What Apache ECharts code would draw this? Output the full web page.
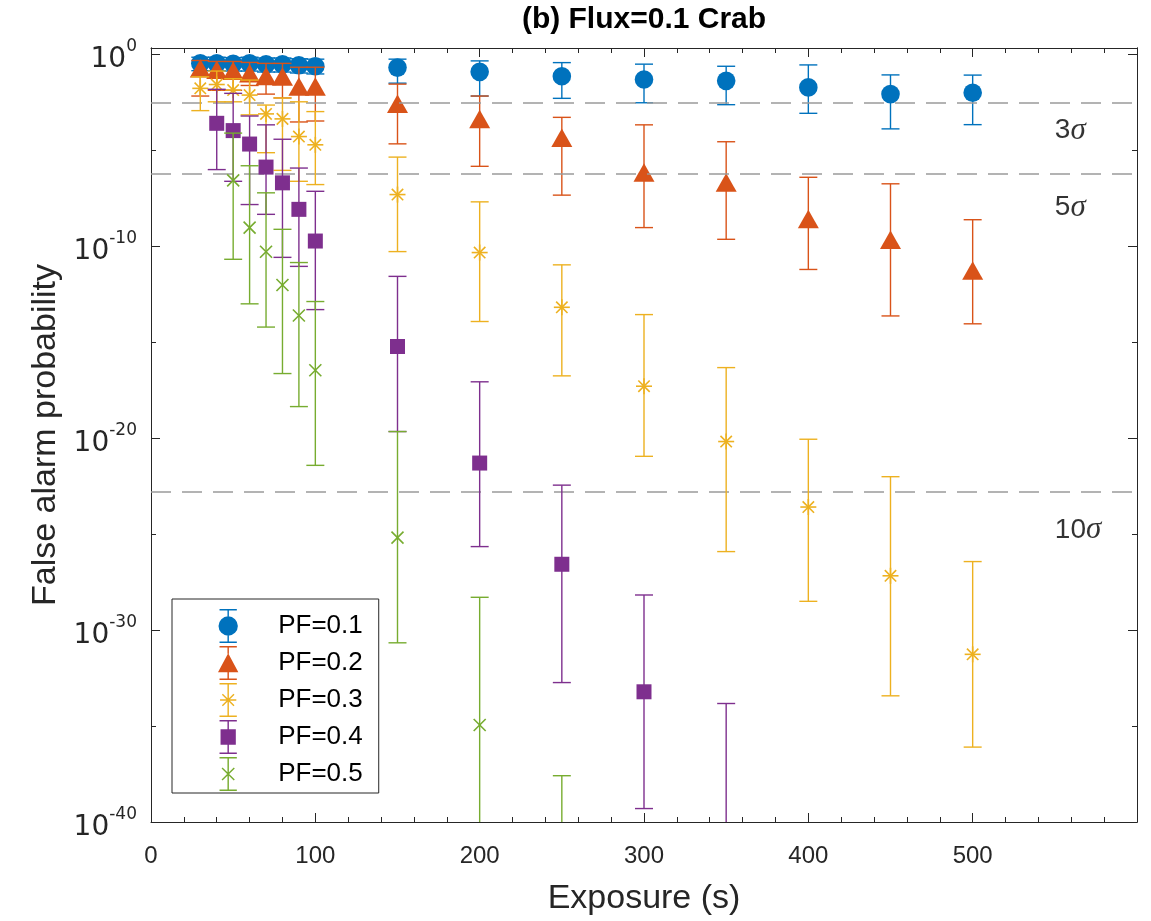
<!DOCTYPE html>
<html>
<head>
<meta charset="utf-8">
<script src="https://cdn.jsdelivr.net/npm/echarts@6/dist/echarts.min.js"></script>
<style>
  html, body { margin: 0; padding: 0; background: #ffffff; }
  #chart { width: 1151px; height: 921px; }
</style>
</head>
<body>
<div id="chart"></div>
<script>
// Exposure times (s)
const exposure = [30, 40, 50, 60, 70, 80, 90, 100, 150, 200, 250, 300, 350, 400, 450, 500];

// log10 of the false alarm probability for each pulsed fraction:
// centre value, upper end and lower end of the error bar (null = no point)
const pf1Mid = [-0.50, -0.50, -0.52, -0.50, -0.55, -0.55, -0.60, -0.65, -0.72, -0.94, -1.17, -1.34, -1.41, -1.75, -2.10, -2.03];
const pf1Hi  = [-0.18, -0.18, -0.20, -0.18, -0.22, -0.22, -0.26, -0.28, -0.28, -0.37, -0.46, -0.54, -0.65, -0.58, -1.10, -1.11];
const pf1Lo  = [-0.88, -0.88, -0.90, -0.90, -0.95, -0.95, -1.00, -1.05, -1.53, -2.20, -2.32, -2.55, -2.65, -3.10, -3.91, -3.69];

const pf2Mid = [-0.77, -0.85, -0.90, -1.03, -1.17, -1.20, -1.72, -1.72, -2.62, -3.41, -4.39, -6.20, -6.72, -8.62, -9.69, -11.30];
const pf2Hi  = [-0.35, -0.40, -0.40, -0.45, -0.50, -0.50, -0.70, -0.70, -1.58, -2.20, -3.31, -3.70, -4.58, -6.43, -6.77, -8.64];
const pf2Lo  = [-2.20, -1.90, -1.90, -1.65, -2.10, -2.30, -3.55, -3.50, -4.69, -5.86, -7.36, -9.05, -9.66, -11.23, -13.65, -14.06];

const pf3Mid = [-1.80, -1.60, -1.89, -2.15, -3.13, -3.39, -4.31, -4.74, -7.33, -10.35, -13.20, -17.31, -20.19, -23.60, -27.18, -31.27];
const pf3Hi  = [-1.20, -0.90, -1.30, -1.37, -2.67, -2.30, -2.50, -3.01, -5.38, -7.71, -10.99, -13.58, -16.34, -20.07, -22.02, -26.44];
const pf3Lo  = [-2.96, -2.50, -2.50, -3.18, -5.15, -6.07, -6.64, -6.81, -10.30, -13.94, -16.77, -20.96, -25.92, -28.51, -33.43, -36.10];

const pf4Mid = [null, -3.62, -4.00, -4.70, -5.90, -6.72, -8.10, -9.75, -15.24, -21.31, -26.58, -33.22, -41.00, null, null, null];
const pf4Hi  = [null, -1.85, -2.06, -3.24, -3.70, -4.45, -5.95, -7.16, -11.59, -17.08, -22.46, -28.18, -33.83, null, null, null];
const pf4Lo  = [null, -6.03, -6.64, -7.85, -8.36, -10.60, -11.07, -13.32, -19.67, -25.66, -32.74, -39.30, -47.00, null, null, null];

const pf5Mid = [null, null, -6.59, -9.05, -10.31, -12.04, -13.63, -16.48, -25.19, -34.95, -42.50, null, null, null, null, null];
const pf5Hi  = [null, null, -4.13, -5.83, -7.24, -9.14, -10.87, -12.90, -19.67, -28.30, -37.59, null, null, null, null, null];
const pf5Lo  = [null, null, -10.70, -13.02, -14.23, -16.65, -18.37, -21.43, -30.67, -45.00, -48.00, null, null, null, null, null];

const seriesNames = ['PF=0.1', 'PF=0.2', 'PF=0.3', 'PF=0.4', 'PF=0.5'];

// Two-sided significance levels drawn as dashed reference lines
const sigmaNames = ['3', '5', '10'];
const sigmaProb = [2.70e-3, 5.73e-7, 1.52e-23];
// where the significance labels sit (exposure, log10 probability)
const sigmaLabelX = 550;
const sigmaLabelY = [-4.0, -8.0, -24.8];

// y range in decades: 1e-40 .. 2
const Y_MIN = -40;
const Y_MAX = Math.log10(2);

const COLORS = ['#0072BD', '#D95319', '#EDB120', '#7E2F8E', '#77AC30'];
const MARKERS = ['circle', 'triangle', 'asterisk', 'square', 'cross'];
const AXIS_COLOR = '#262626';
const FONT = '"Liberation Sans", Arial, Helvetica, sans-serif';
const TICK_FONT = '"DejaVu Sans", Verdana, sans-serif';

const groups = [
  [pf1Mid, pf1Hi, pf1Lo],
  [pf2Mid, pf2Hi, pf2Lo],
  [pf3Mid, pf3Hi, pf3Lo],
  [pf4Mid, pf4Hi, pf4Lo],
  [pf5Mid, pf5Hi, pf5Lo]
];

function buildData(mid, hi, lo) {
  const out = [];
  exposure.forEach((x, i) => {
    if (mid[i] == null) return;
    out.push([x, mid[i], hi[i], lo[i]]);
  });
  return out;
}

function markerShape(kind, cx, cy, color) {
  const stroke = { stroke: color, lineWidth: 1.6, fill: null };
  switch (kind) {
    case 'circle':
      return { type: 'circle', shape: { cx, cy, r: 9.3 }, style: { fill: color } };
    case 'triangle':
      return { type: 'polygon', shape: { points: [[cx, cy - 9.5], [cx + 10.5, cy + 9], [cx - 10.5, cy + 9]] }, style: { fill: color } };
    case 'square':
      return { type: 'rect', shape: { x: cx - 7.5, y: cy - 7.5, width: 15, height: 15 }, style: { fill: color } };
    case 'asterisk': {
      const r = 8, d = 5.7;
      return { type: 'group', children: [
        { type: 'line', shape: { x1: cx - r, y1: cy, x2: cx + r, y2: cy }, style: stroke },
        { type: 'line', shape: { x1: cx, y1: cy - r, x2: cx, y2: cy + r }, style: stroke },
        { type: 'line', shape: { x1: cx - d, y1: cy - d, x2: cx + d, y2: cy + d }, style: stroke },
        { type: 'line', shape: { x1: cx + d, y1: cy - d, x2: cx - d, y2: cy + d }, style: stroke }
      ] };
    }
    default: {
      const d = 6;
      return { type: 'group', children: [
        { type: 'line', shape: { x1: cx - d, y1: cy - d, x2: cx + d, y2: cy + d }, style: stroke },
        { type: 'line', shape: { x1: cx + d, y1: cy - d, x2: cx - d, y2: cy + d }, style: stroke }
      ] };
    }
  }
}

function errorBarRenderer(kind, color) {
  return function (params, api) {
    const x = api.value(0);
    const mid = api.coord([x, api.value(1)]);
    const hi = api.coord([x, api.value(2)]);
    const lo = api.coord([x, api.value(3)]);
    const cap = 9;
    const ls = { stroke: color, lineWidth: 1.4 };
    return {
      type: 'group',
      children: [
        { type: 'line', shape: { x1: hi[0], y1: hi[1], x2: lo[0], y2: lo[1] }, style: ls },
        { type: 'line', shape: { x1: hi[0] - cap, y1: hi[1], x2: hi[0] + cap, y2: hi[1] }, style: ls },
        { type: 'line', shape: { x1: lo[0] - cap, y1: lo[1], x2: lo[0] + cap, y2: lo[1] }, style: ls },
        markerShape(kind, mid[0], mid[1], color)
      ]
    };
  };
}

// Legend icons: error bar with caps plus the marker, in a 20 x 34 box
const CAPS = 'M1.5 0.3 L18.5 0.3 L18.5 1.7 L1.5 1.7 Z M1.5 32.3 L18.5 32.3 L18.5 33.7 L1.5 33.7 Z ';
function bar(y1, y2) { return 'M9.3 ' + y1 + ' L10.7 ' + y1 + ' L10.7 ' + y2 + ' L9.3 ' + y2 + ' Z '; }
const LEGEND_ICONS = [
  'path://' + CAPS + bar(1, 7.5) + bar(26.5, 33) + 'M0.5 17 A9.5 9.5 0 1 1 19.5 17 A9.5 9.5 0 1 1 0.5 17 Z',
  'path://' + CAPS + bar(1, 8) + bar(26, 33) + 'M10 7.5 L20 26 L0 26 Z',
  'path://' + CAPS + bar(1, 33) + 'M2 16.3 L18 16.3 L18 17.7 L2 17.7 Z M4.8 10.8 L16.2 22.2 L15.2 23.2 L3.8 11.8 Z M15.2 10.8 L16.2 11.8 L4.8 23.2 L3.8 22.2 Z',
  'path://' + CAPS + bar(1, 9.5) + bar(24.5, 33) + 'M2.5 9.5 L17.5 9.5 L17.5 24.5 L2.5 24.5 Z',
  'path://' + CAPS + bar(1, 33) + 'M4.5 10.5 L16.5 22.5 L15.5 23.5 L3.5 11.5 Z M15.5 10.5 L16.5 11.5 L4.5 23.5 L3.5 22.5 Z'
];

const dataSeries = groups.map((g, k) => ({
  name: seriesNames[k],
  type: 'custom',
  xAxisIndex: 0,
  yAxisIndex: 0,
  clip: true,
  itemStyle: { color: COLORS[k] },
  encode: { x: 0, y: [1, 2, 3] },
  renderItem: errorBarRenderer(MARKERS[k], COLORS[k]),
  data: buildData(g[0], g[1], g[2]),
  z: 3 + k
}));

const sigmaSeries = {
  name: 'sigma',
  type: 'scatter',
  xAxisIndex: 0,
  yAxisIndex: 0,
  symbolSize: 0,
  silent: true,
  z: 2,
  data: sigmaNames.map((n, i) => [sigmaLabelX, sigmaLabelY[i], n]),
  label: {
    show: true,
    position: [0, 0],
    align: 'left',
    verticalAlign: 'middle',
    formatter: p => '{n|' + p.value[2] + '}{g|σ}',
    rich: {
      n: { fontSize: 28, color: '#000', fontFamily: FONT },
      g: { fontSize: 31, color: '#000', fontStyle: 'italic', fontFamily: '"Liberation Serif", "DejaVu Serif", serif' }
    }
  },
  markLine: {
    silent: true,
    symbol: 'none',
    label: { show: false },
    lineStyle: { type: [20, 11], color: '#9a9a9a', width: 1.6 },
    data: sigmaProb.map(p => ({ yAxis: Math.log10(p) }))
  }
};

function yTickLabel(v) {
  const r = Math.round(v);
  if (Math.abs(v - r) > 1e-6 || r % 10 !== 0) return '';
  return '{b|10}{s|' + r + '}';
}

const tickLine = { color: AXIS_COLOR, width: 1 };
const axisLine = { show: true, onZero: false, lineStyle: { color: AXIS_COLOR, width: 1 } };

function xAxisDef(pos, withLabels) {
  return {
    type: 'value', position: pos, min: 0, max: 600, interval: 100,
    axisLine: axisLine,
    axisTick: { show: true, inside: true, length: 9, lineStyle: tickLine },
    minorTick: { show: true, splitNumber: 5, length: 5, lineStyle: tickLine },
    splitLine: { show: false },
    axisLabel: withLabels ? { show: true, showMaxLabel: false, fontSize: 24, color: AXIS_COLOR, fontFamily: FONT, margin: 22 } : { show: false },
    name: withLabels ? 'Exposure (s)' : '',
    nameLocation: 'middle',
    nameGap: 60,
    nameTextStyle: { fontSize: 34, color: AXIS_COLOR, fontFamily: FONT }
  };
}

function yAxisDef(pos, interval, len, withLabels) {
  return {
    type: 'value', position: pos, min: Y_MIN, max: Y_MAX, interval: interval,
    axisLine: axisLine,
    axisTick: { show: true, inside: true, length: len, lineStyle: tickLine },
    minorTick: { show: false },
    splitLine: { show: false },
    axisLabel: withLabels ? {
      show: true, margin: 14, formatter: yTickLabel, showMaxLabel: false,
      rich: {
        b: { fontSize: 28, color: AXIS_COLOR, fontFamily: TICK_FONT, padding: [12, 0, 0, 0] },
        s: { fontSize: 17, color: AXIS_COLOR, fontFamily: TICK_FONT, padding: [0, 0, 14, 0] }
      }
    } : { show: false },
    name: withLabels ? 'False alarm probability' : '',
    nameLocation: 'middle',
    nameGap: 88,
    nameTextStyle: { fontSize: 34, color: AXIS_COLOR, fontFamily: FONT }
  };
}

const chart = echarts.init(document.getElementById('chart'), null, { renderer: 'canvas' });
chart.setOption({
  backgroundColor: '#ffffff',
  animation: false,
  color: COLORS,
  title: {
    text: '(b) Flux=0.1 Crab',
    left: 639,
    textAlign: 'center',
    top: 0,
    textStyle: { fontSize: 30, fontWeight: 'bold', color: '#000', fontFamily: FONT }
  },
  grid: { left: 151, right: 14, top: 48, bottom: 96, containLabel: false },
  xAxis: [xAxisDef('bottom', true), xAxisDef('top', false)],
  yAxis: [
    yAxisDef('left', 10, 9, true),
    yAxisDef('left', 5, 5, false),
    yAxisDef('right', 10, 9, false),
    yAxisDef('right', 5, 5, false)
  ],
  legend: {
    data: seriesNames.map((n, k) => ({ name: n, icon: LEGEND_ICONS[k] })),
    orient: 'vertical',
    left: 172,
    top: 599,
    itemWidth: 22,
    itemHeight: 34,
    itemGap: 3,
    padding: [10, 16, 2, 46],
    backgroundColor: '#ffffff',
    borderColor: '#262626',
    borderWidth: 1,
    borderRadius: 0,
    symbolKeepAspect: true,
    itemStyle: { borderWidth: 0 },
    selectedMode: false,
    textStyle: { fontSize: 26, color: '#000', fontFamily: FONT, padding: [0, 0, 0, 34] }
  },
  series: [sigmaSeries].concat(dataSeries)
});
</script>
</body>
</html>
